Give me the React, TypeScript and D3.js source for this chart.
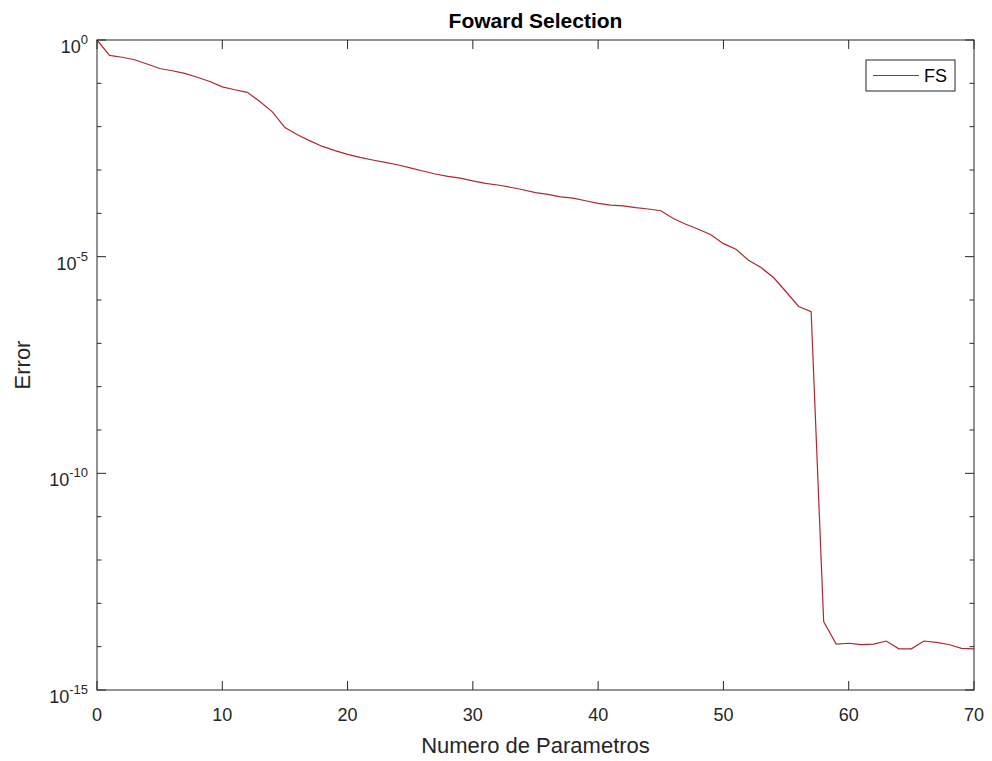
import React from "react";
import * as d3 from "d3";

const params: number[] = d3.range(0, 71);
const errorFS: number[] = [
  1, 4.4e-1, 4.0e-1, 3.5e-1, 2.8e-1, 2.2e-1, 1.95e-1, 1.7e-1, 1.38e-1, 1.1e-1,
  8.3e-2, 7.1e-2, 6.2e-2, 3.8e-2, 2.2e-2, 9.5e-3, 6.5e-3, 4.7e-3, 3.5e-3, 2.8e-3,
  2.3e-3, 1.95e-3, 1.7e-3, 1.5e-3, 1.32e-3, 1.12e-3, 9.5e-4, 8.1e-4, 7.1e-4, 6.5e-4,
  5.6e-4, 4.9e-4, 4.5e-4, 4.0e-4, 3.5e-4, 3.0e-4, 2.75e-4, 2.4e-4, 2.25e-4, 1.95e-4,
  1.7e-4, 1.55e-4, 1.48e-4, 1.35e-4, 1.26e-4, 1.15e-4, 7.6e-5, 5.6e-5, 4.3e-5, 3.2e-5,
  2.0e-5, 1.48e-5, 8.3e-6, 5.6e-6, 3.3e-6, 1.55e-6, 7.1e-7, 5.4e-7, 3.8e-14, 1.15e-14,
  1.2e-14, 1.12e-14, 1.15e-14, 1.35e-14, 8.9e-15, 8.9e-15, 1.35e-14, 1.26e-14, 1.12e-14, 9.1e-15,
  8.9e-15,
];
const xTicks: number[] = [0, 10, 20, 30, 40, 50, 60, 70];
const yMajorExp: number[] = [0, -5, -10, -15];
const yMinorExp: number[] = d3.range(-1, -15, -1).filter((e) => e % 5 !== 0);

const title = "Foward Selection";
const xLabel = "Numero de Parametros";
const yLabel = "Error";
const legendLabel = "FS";

const W = 992, H = 761;
const L = 97, R = 974, T = 40, B = 690;
const axisColor = "#262626";
const lineColor = "#b0282c";
const font = "'Liberation Sans', Arial, sans-serif";

export default function App() {
  const x = d3.scaleLinear().domain([0, 70]).range([L, R]);
  const y = d3.scaleLog().domain([1e-15, 1]).range([B, T]);
  const line = d3
    .line<number>()
    .x((_, i) => x(params[i]))
    .y((d) => y(d));
  const majorLen = 9;
  const minorLen = 4.5;

  return (
    <svg
      width={W}
      height={H}
      style={{ position: "absolute", left: 0, top: 0, background: "#fff" }}
      fontFamily={font}
    >
      <rect x={0} y={0} width={W} height={H} fill="#fff" />
      {/* data line */}
      <path d={line(errorFS) || ""} fill="none" stroke={lineColor} strokeWidth={1.2} />
      {/* axes box */}
      <rect x={L} y={T} width={R - L} height={B - T} fill="none" stroke={axisColor} strokeWidth={1} />
      {/* x ticks */}
      {xTicks.map((t) => (
        <g key={"xt" + t}>
          <line x1={x(t)} x2={x(t)} y1={B} y2={B - majorLen} stroke={axisColor} />
          <line x1={x(t)} x2={x(t)} y1={T} y2={T + majorLen} stroke={axisColor} />
          <text x={x(t)} y={B + 31} textAnchor="middle" fontSize={18} fill={axisColor}>
            {t}
          </text>
        </g>
      ))}
      {/* y major ticks */}
      {yMajorExp.map((e) => {
        const yy = y(Math.pow(10, e));
        return (
          <g key={"ym" + e}>
            <line x1={L} x2={L + majorLen} y1={yy} y2={yy} stroke={axisColor} />
            <line x1={R} x2={R - majorLen} y1={yy} y2={yy} stroke={axisColor} />
            <text x={88} y={yy + 13} textAnchor="end" fill={axisColor} fontSize={18}>
              <tspan>10</tspan>
              <tspan dy={-9} fontSize={13}>
                {e}
              </tspan>
            </text>
          </g>
        );
      })}
      {/* y minor ticks */}
      {yMinorExp.map((e) => {
        const yy = y(Math.pow(10, e));
        return (
          <g key={"yn" + e}>
            <line x1={L} x2={L + minorLen} y1={yy} y2={yy} stroke={axisColor} />
            <line x1={R} x2={R - minorLen} y1={yy} y2={yy} stroke={axisColor} />
          </g>
        );
      })}
      {/* title */}
      <text x={(L + R) / 2} y={28} textAnchor="middle" fontSize={21} fontWeight="bold" fill="#000">
        {title}
      </text>
      {/* x label */}
      <text x={(L + R) / 2} y={753} textAnchor="middle" fontSize={22} fill={axisColor}>
        {xLabel}
      </text>
      {/* y label */}
      <text
        transform={`translate(30, ${(T + B) / 2}) rotate(-90)`}
        textAnchor="middle"
        fontSize={22}
        fill={axisColor}
      >
        {yLabel}
      </text>
      {/* legend */}
      <g>
        <rect x={866} y={60} width={89} height={31} fill="#fff" stroke={axisColor} strokeWidth={1} />
        <line x1={873} x2={919} y1={75.5} y2={75.5} stroke={lineColor} strokeWidth={1.2} />
        <text x={924} y={82} fontSize={18} fill="#000">
          {legendLabel}
        </text>
      </g>
    </svg>
  );
}
